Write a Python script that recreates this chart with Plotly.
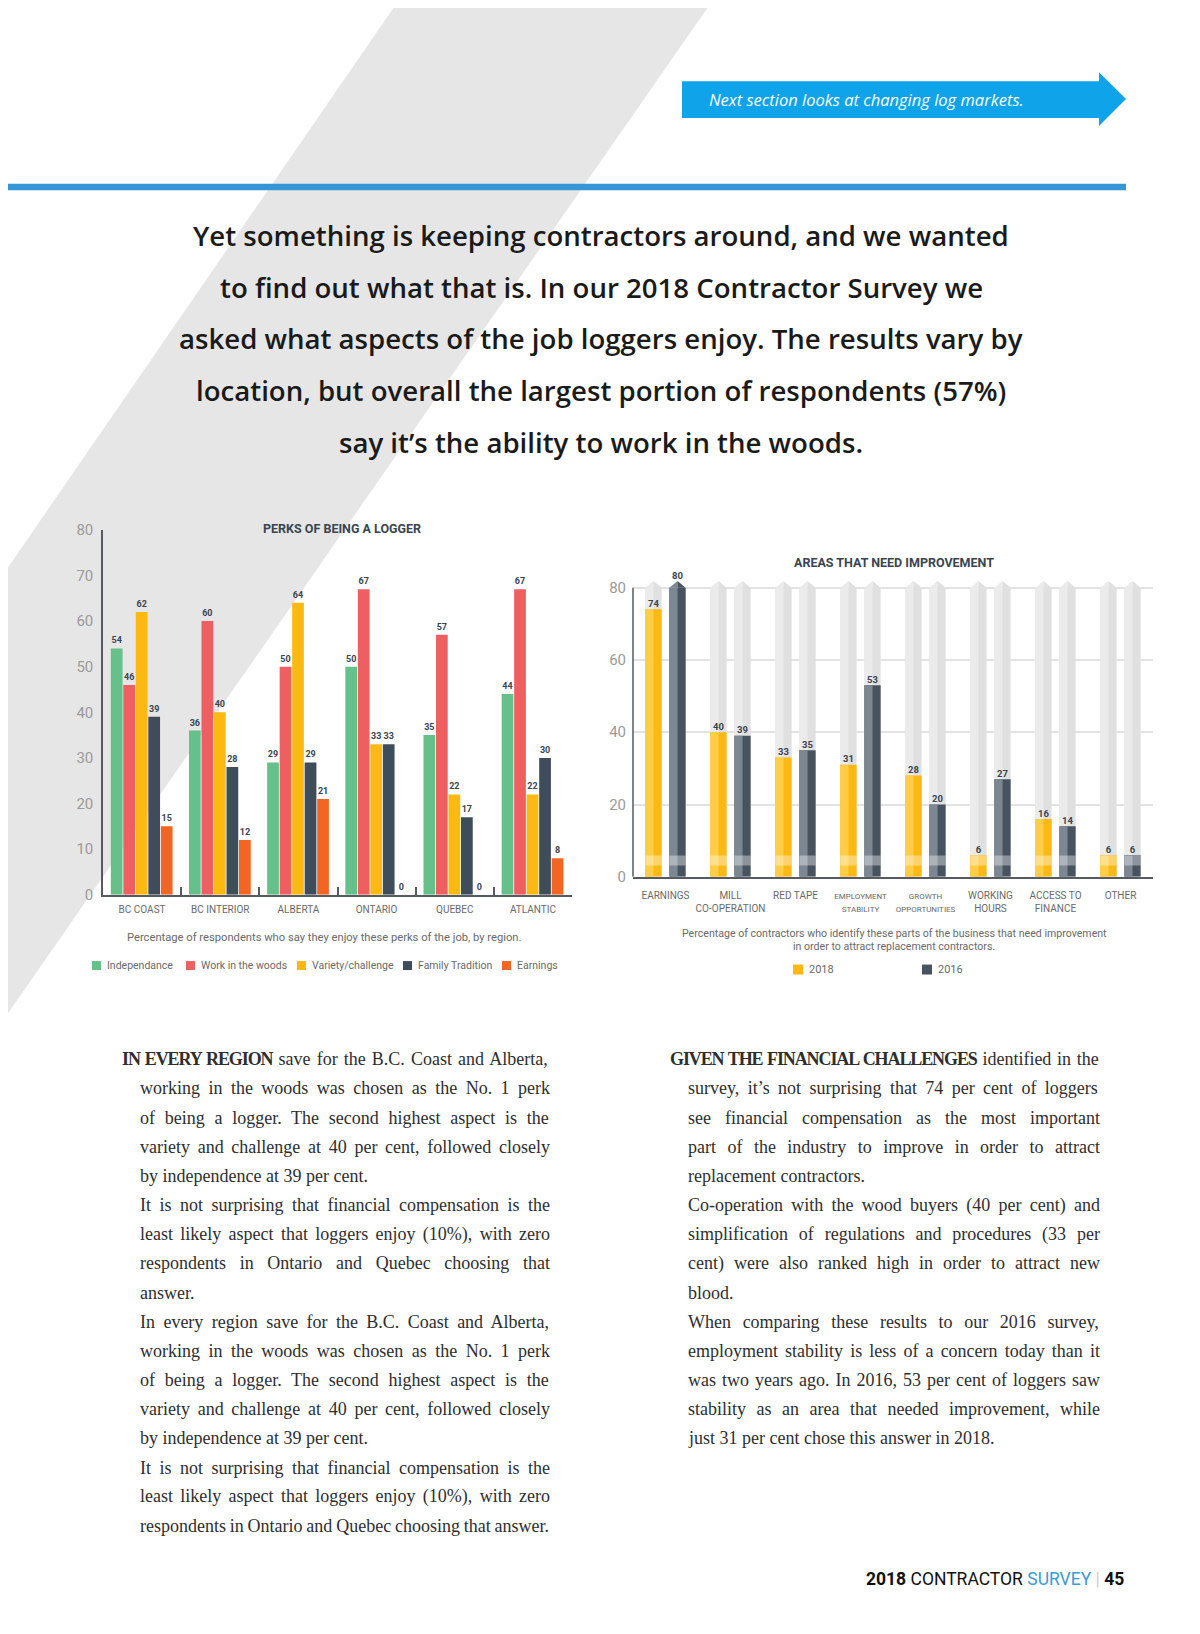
import plotly.graph_objects as go

PAGE_W, PAGE_H = 1200, 1634
OFF = 8                      # default body margin of the html page
FIG_W, FIG_H = PAGE_W - 2 * OFF, PAGE_H - 2 * OFF


def fx(x):
    return (x - OFF) / FIG_W


def fy(y):
    y = 1.0083 * y - 7.8     # small calibration of vertical placement
    return 1 - (y - OFF) / FIG_H


# ---------------- data ----------------
regions = ["BC COAST", "BC INTERIOR", "ALBERTA", "ONTARIO", "QUEBEC", "ATLANTIC"]
perk_names = ["Independance", "Work in the woods", "Variety/challenge", "Family Tradition", "Earnings"]
independance = [54, 36, 29, 50, 35, 44]
work_in_woods = [46, 60, 50, 67, 57, 67]
variety_challenge = [62, 40, 64, 33, 22, 22]
family_tradition = [39, 28, 29, 33, 17, 30]
earnings_perk = [15, 12, 21, 0, 0, 8]
perk_series = [independance, work_in_woods, variety_challenge, family_tradition, earnings_perk]
perk_ticks = [0, 10, 20, 30, 40, 50, 60, 70, 80]

areas = ["EARNINGS", "MILL<br>CO-OPERATION", "RED TAPE",
         "<span style='font-size:8px'>EMPLOYMENT</span><br><span style='font-size:8px'>STABILITY</span>",
         "<span style='font-size:8px'>GROWTH</span><br><span style='font-size:8px'>OPPORTUNITIES</span>",
         "WORKING<br>HOURS", "ACCESS TO<br>FINANCE", "OTHER"]
improve_2018 = [74, 40, 33, 31, 28, 6, 16, 6]
improve_2016 = [80, 39, 35, 53, 20, 27, 14, 6]
improve_years = ["2018", "2016"]
improve_series = [improve_2018, improve_2016]
improve_ticks = [0, 20, 40, 60, 80]

# ---------------- style ----------------
perk_colors = ["#66C08A", "#EE5F62", "#FDB913", "#3F4D5A", "#F26522"]
year_colors = ["#FDB913", "#47535E"]
year_light = ["#FFCD48", "#7C8791"]
track_color = "#E0E0E0"
track_light = "#EBEBEB"
label_col = "#3A4550"
axis_col = "#555B60"
tick_col = "#9A9A9A"

fig = go.Figure()

# ---------- chart 1 : perks ----------
PITCH, BW = 0.16, 0.15
for k, (name, vals, col) in enumerate(zip(perk_names, perk_series, perk_colors)):
    fig.add_trace(go.Bar(
        x=regions, y=vals, name=name, xaxis="x", yaxis="y",
        offset=-0.4 + k * PITCH, width=BW,
        marker=dict(color=col, line=dict(width=0)),
        text=vals, textposition="outside", constraintext="none", cliponaxis=False,
        textfont=dict(family="Roboto", size=9, color=label_col, weight="bold"),
        showlegend=False))

# ---------- chart 2 : improvement ----------
n = len(areas)
x_idx = list(range(n))
W2 = 0.25
OFFS = [-0.31, 0.06]
TRACK = improve_ticks[-1]
TIP = 1.85
BAND_BASE, BAND_H = 3.1, 2.8

for s in range(2):
    fig.add_trace(go.Bar(x=x_idx, y=[TRACK] * n, offset=OFFS[s], width=W2, xaxis="x2", yaxis="y2",
                         marker=dict(color=track_color, line=dict(width=0)), showlegend=False, hoverinfo="skip"))
    fig.add_trace(go.Bar(x=x_idx, y=[TRACK] * n, offset=OFFS[s], width=W2 / 2, xaxis="x2", yaxis="y2",
                         marker=dict(color=track_light, line=dict(width=0)), showlegend=False, hoverinfo="skip"))
for s, vals in enumerate(improve_series):
    fig.add_trace(go.Bar(x=x_idx, y=vals, offset=OFFS[s], width=W2, xaxis="x2", yaxis="y2", name=improve_years[s],
                         marker=dict(color=year_colors[s], line=dict(width=0)), showlegend=False))
    fig.add_trace(go.Bar(x=x_idx, y=vals, offset=OFFS[s], width=W2 / 2, xaxis="x2", yaxis="y2",
                         marker=dict(color=year_light[s], line=dict(width=0)), showlegend=False, hoverinfo="skip"))
for s in range(2):
    fig.add_trace(go.Bar(x=x_idx, y=[BAND_H] * n, base=BAND_BASE, offset=OFFS[s], width=W2, xaxis="x2", yaxis="y2",
                         marker=dict(color="rgba(255,255,255,0.38)", line=dict(width=0)),
                         showlegend=False, hoverinfo="skip"))

# pointed tips of the tracks
polys = {}
for s, vals in enumerate(improve_series):
    for i in x_idx:
        full = vals[i] >= TRACK
        x0 = i + OFFS[s]
        xc = x0 + W2 / 2
        x1 = x0 + W2
        lc = year_light[s] if full else track_light
        rc = year_colors[s] if full else track_color
        px_, py_ = polys.setdefault(lc, ([], []))
        px_ += [x0, xc, xc, x0, None]
        py_ += [TRACK, TRACK, TRACK + TIP, TRACK, None]
        px_, py_ = polys.setdefault(rc, ([], []))
        px_ += [xc, x1, xc, xc, None]
        py_ += [TRACK, TRACK, TRACK + TIP, TRACK, None]
for col, (xs, ys) in polys.items():
    fig.add_trace(go.Scatter(x=xs, y=ys, mode="lines", fill="toself", fillcolor=col,
                             line=dict(width=0, color=col), xaxis="x2", yaxis="y2",
                             showlegend=False, hoverinfo="skip"))

# value labels
for s, vals in enumerate(improve_series):
    fig.add_trace(go.Scatter(
        x=[i + OFFS[s] + W2 / 2 for i in x_idx],
        y=[v + (TIP if v >= TRACK else 0) for v in vals],
        mode="text", text=[str(v) for v in vals], textposition="top center",
        textfont=dict(family="Roboto", size=9.5, color=label_col, weight="bold"),
        cliponaxis=False, xaxis="x2", yaxis="y2", showlegend=False, hoverinfo="skip"))

# ---------------- page decoration ----------------
shapes = []


def path(points):
    return "M " + " L ".join(f"{fx(x):.5f},{fy(y):.5f}" for x, y in points) + " Z"


shapes.append(dict(type="path", xref="paper", yref="paper", layer="below",
                   path=path([(398, 0), (712, 0), (3, 1022), (3, 575)]),
                   fillcolor="#E6E6E6", line=dict(width=0)))
shapes.append(dict(type="rect", xref="paper", yref="paper", x0=fx(2), x1=fx(1126), y0=fy(183), y1=fy(189.5),
                   fillcolor="#3596D5", line=dict(width=0), layer="below"))
shapes.append(dict(type="path", xref="paper", yref="paper", layer="below",
                   path=path([(682, 80), (1099, 80), (1099, 71), (1126, 98), (1099, 125), (1099, 117), (682, 117)]),
                   fillcolor="#0FA3EA", line=dict(width=0)))
shapes.append(dict(type="line", xref="x2 domain", yref="y2", x0=0, x1=0, y0=0, y1=TRACK,
                   line=dict(color=axis_col, width=1.5)))

annotations = []


def ann(text, x, y, size, color="#333", family="Roboto", xanchor="center", weight=None):
    f = dict(family=family, size=size, color=color)
    if weight:
        f["weight"] = weight
    annotations.append(dict(text=text, x=fx(x), y=fy(y), xref="paper", yref="paper", showarrow=False,
                            xanchor=xanchor, yanchor="middle", font=f))


ann("<i>Next section looks at changing log markets.</i>", 707, 98, 16.5, "#FFFFFF", "Open Sans", "left")

headline = ["Yet something is keeping contractors around, and we wanted",
            "to find out what that is. In our 2018 Contractor Survey we",
            "asked what aspects of the job loggers enjoy. The results vary by",
            "location, but overall the largest portion of respondents (57%)",
            "say it’s the ability to work in the woods."]
for i, line in enumerate(headline):
    ann(line, 601, 234 + i * 52, 27.6, "#1A1A1A", "Open Sans", weight=600)

ann("PERKS OF BEING A LOGGER", 342, 529, 12.5, "#3A4550", weight="bold")
ann("AREAS THAT NEED IMPROVEMENT", 894, 563, 12.5, "#3A4550", weight="bold")
ann("Percentage of respondents who say they enjoy these perks of the job, by region.", 324, 939, 11.2, "#6A6A6A")
ann("Percentage of contractors who identify these parts of the business that need improvement", 894, 935, 10.6, "#6A6A6A")
ann("in order to attract replacement contractors.", 894, 947.5, 10.6, "#6A6A6A")

leg1_x = [92, 186, 297, 403, 502]
for name, col, x in zip(perk_names, perk_colors, leg1_x):
    shapes.append(dict(type="rect", xref="paper", yref="paper", x0=fx(x), x1=fx(x + 9), y0=fy(962.5), y1=fy(971.5),
                       fillcolor=col, line=dict(width=0)))
    ann(name, x + 13, 967, 10.5, "#6A6A6A", xanchor="left")
leg2_x = [793, 922]
for name, col, x in zip(improve_years, year_colors, leg2_x):
    shapes.append(dict(type="rect", xref="paper", yref="paper", x0=fx(x), x1=fx(x + 10), y0=fy(966), y1=fy(976),
                       fillcolor=col, line=dict(width=0)))
    ann(name, x + 14, 971, 11, "#6A6A6A", xanchor="left")

# ---------------- body text (justified with word-spacing) ----------------
TIMES = dict(zip("ABCDEFGHIJKLMNOPQRSTUVWXYZ",
                 [722, 667, 667, 722, 611, 556, 722, 722, 333, 389, 722, 611, 889, 722, 722, 556, 722, 667, 556,
                  611, 722, 722, 944, 722, 722, 611]))
TIMES.update(zip("abcdefghijklmnopqrstuvwxyz",
                 [444, 500, 444, 500, 444, 333, 500, 500, 278, 278, 500, 278, 778, 500, 500, 500, 500, 333, 389,
                  278, 500, 500, 722, 500, 500, 444]))
TIMES.update({c: 500 for c in "0123456789"})
TIMES.update({" ": 250, ".": 250, ",": 250, "(": 333, ")": 333, "%": 833, "’": 333, "-": 333})
TIMES_B = dict(zip("ABCDEFGHIJKLMNOPQRSTUVWXYZ",
                   [722, 667, 722, 722, 667, 611, 778, 778, 389, 500, 778, 667, 944, 722, 778, 611, 778, 722, 556,
                    667, 722, 722, 1000, 722, 722, 667]))
TIMES_B[" "] = 250
BODY_SIZE = 18
LEAD_LS = -1.1


def natural_width(lead, rest):
    w = sum(TIMES_B.get(c, 600) for c in lead) + sum(TIMES.get(c, 500) for c in rest)
    return w * BODY_SIZE / 1000 + LEAD_LS * len(lead)


def body(lines, x_first, x_rest, x_right, y0, finals):
    for i, (lead, rest) in enumerate(lines):
        x = x_first if i == 0 else x_rest
        text = (f"<span style='letter-spacing:{LEAD_LS}px'><b>{lead}</b></span>" if lead else "") + rest
        if i not in finals:
            spaces = (lead + rest).count(" ")
            ws = (x_right - x - natural_width(lead, rest)) / max(spaces, 1)
            text = f"<span style='word-spacing:{ws:.2f}px'>{text}</span>"
        ann(text, x, y0 + i * 29.25, BODY_SIZE, "#2E2E2E", "Liberation Serif", "left")


left_col = [("IN EVERY REGION", " save for the B.C. Coast and Alberta,"),
            ("", "working in the woods was chosen as the No. 1 perk"),
            ("", "of being a logger. The second highest aspect is the"),
            ("", "variety and challenge at 40 per cent, followed closely"),
            ("", "by independence at 39 per cent."),
            ("", "It is not surprising that financial compensation is the"),
            ("", "least likely aspect that loggers enjoy (10%), with zero"),
            ("", "respondents in Ontario and Quebec choosing that"),
            ("", "answer."),
            ("", "In every region save for the B.C. Coast and Alberta,"),
            ("", "working in the woods was chosen as the No. 1 perk"),
            ("", "of being a logger. The second highest aspect is the"),
            ("", "variety and challenge at 40 per cent, followed closely"),
            ("", "by independence at 39 per cent."),
            ("", "It is not surprising that financial compensation is the"),
            ("", "least likely aspect that loggers enjoy (10%), with zero"),
            ("", "respondents in Ontario and Quebec choosing that answer.")]
right_col = [("GIVEN THE FINANCIAL CHALLENGES", " identified in the"),
             ("", "survey, it’s not surprising that 74 per cent of loggers"),
             ("", "see financial compensation as the most important"),
             ("", "part of the industry to improve in order to attract"),
             ("", "replacement contractors."),
             ("", "Co-operation with the wood buyers (40 per cent) and"),
             ("", "simplification of regulations and procedures (33 per"),
             ("", "cent) were also ranked high in order to attract new"),
             ("", "blood."),
             ("", "When comparing these results to our 2016 survey,"),
             ("", "employment stability is less of a concern today than it"),
             ("", "was two years ago. In 2016, 53 per cent of loggers saw"),
             ("", "stability as an area that needed improvement, while"),
             ("", "just 31 per cent chose this answer in 2018.")]
body(left_col, 120, 138, 548, 1061, finals={4, 8, 13})
body(right_col, 668, 686, 1098, 1061, finals={4, 8, 13})

ann("<b>2018</b> CONTRACTOR <span style='color:#3B9BD8'>SURVEY</span> "
    "<span style='color:#D0D0D0'>|</span> <b>45</b>", 1126, 1582, 17.5, "#111111", "Roboto", "right")

fig.update_layout(
    width=FIG_W, height=FIG_H, margin=dict(l=0, r=0, t=0, b=0),
    paper_bgcolor="#FFFFFF", plot_bgcolor="rgba(0,0,0,0)",
    barmode="overlay", showlegend=False,
    shapes=shapes, annotations=annotations,
    xaxis=dict(domain=[fx(103), fx(572)], anchor="y", type="category", range=[-0.5, 5.5],
               tickson="boundaries", ticks="inside", ticklen=8, tickwidth=1.5, tickcolor=axis_col,
               showline=True, linecolor=axis_col, linewidth=2, showgrid=False, zeroline=False,
               tickfont=dict(family="Roboto", size=10, color="#6A6A6A"), ticklabelstandoff=4),
    yaxis=dict(domain=[fy(896), fy(530)], anchor="x", range=[0, 80], tickvals=perk_ticks,
               showline=True, linecolor=axis_col, linewidth=1.5, showgrid=False, zeroline=False,
               ticks="", tickfont=dict(family="Roboto", size=15, color=tick_col), ticklabelstandoff=5),
    xaxis2=dict(domain=[fx(633), fx(1153)], anchor="y2", range=[-0.5, n - 0.5], tickvals=x_idx, ticktext=areas,
                ticks="", showline=True, linecolor=axis_col, linewidth=2, showgrid=False, zeroline=False,
                tickfont=dict(family="Roboto", size=10, color="#6A6A6A"), ticklabelstandoff=8),
    xaxis3=dict(overlaying="x2", anchor="y2", range=[-0.5, n - 0.5], tickvals=[i + 0.5 for i in x_idx[:-1]],
                ticks="outside", ticklen=8, tickwidth=1.5, tickcolor=axis_col, showticklabels=False,
                showline=False, showgrid=False, zeroline=False),
    yaxis2=dict(domain=[fy(878), fy(878 - 84 * 3.625)], anchor="x2", range=[0, 84], tickvals=improve_ticks,
                showline=False, showgrid=True, gridcolor="#E3E3E3", gridwidth=2, zeroline=False,
                ticks="", tickfont=dict(family="Roboto", size=15, color=tick_col), ticklabelstandoff=6),
)

fig.write_html("out.html")
